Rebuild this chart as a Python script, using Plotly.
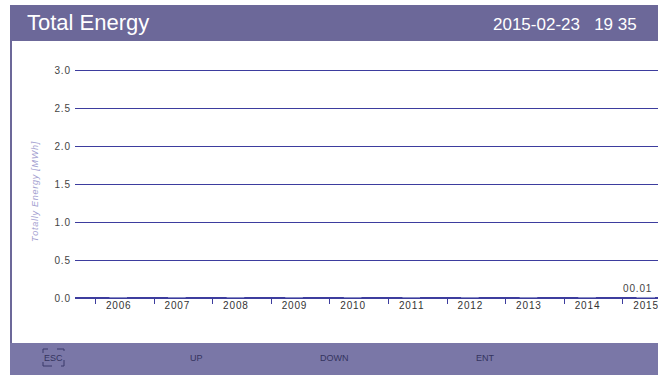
import plotly.graph_objects as go

# Yearly energy totals (MWh)
years = [2006, 2007, 2008, 2009, 2010, 2011, 2012, 2013, 2014, 2015]
energy = [0, 0, 0, 0, 0, 0, 0, 0, 0, 0.01]
y_ticks = [0.0, 0.5, 1.0, 1.5, 2.0, 2.5, 3.0]
y_tick_text = ["0.0", "0.5", "1.0", "1.5", "2.0", "2.5", "3.0"]
boundaries = [y - 0.39 for y in years]

title_text = "Total Energy"
timestamp = "2015-02-23   19 35"
buttons = ["ESC", "UP", "DOWN", "ENT"]
button_x = [53, 196, 334, 485]

W, H = 658, 375
ML, MR, MT, MB = 75, 0, 55, 77
PW, PH = W - ML - MR, H - MT - MB
HEADER = "#6c6899"
FOOTER = "#7a77a7"
GRID = "#3d3d9e"
HS = "\u200a"  # hair space for the wide-tracked LCD lettering


def spaced(s):
    return HS.join(s)


def px(x):
    """Pixel x -> paper x (plot-area relative)."""
    return (x - ML) / PW


def py(y):
    """Pixel y (from top) -> paper y (plot-area relative)."""
    return (H - MB - y) / PH


fig = go.Figure()
fig.add_trace(go.Bar(
    x=years, y=energy, marker_color=GRID, width=0.3, cliponaxis=False,
))

fig.update_layout(
    width=W, height=H,
    margin=dict(l=ML, r=MR, t=MT, b=MB),
    paper_bgcolor="white", plot_bgcolor="white",
    showlegend=False,
    font=dict(family="Liberation Sans, Arial", color="#444444"),
    xaxis=dict(
        range=[2005.262, 2015.21],
        tickvals=years, ticktext=[spaced(str(y)) for y in years],
        ticks="", showgrid=False, zeroline=False,
        showline=False, ticklabeloverflow="allow",
        tickfont=dict(size=10, color="#333333"),
        minor=dict(tickvals=boundaries, ticks="outside", ticklen=5,
                   tickcolor=GRID, tickwidth=1, showgrid=False),
    ),
    yaxis=dict(
        range=[0, 3.2],
        tickvals=y_ticks, ticktext=[spaced(t) for t in y_tick_text],
        showgrid=True, gridcolor=GRID, gridwidth=1,
        zeroline=True, zerolinecolor=GRID, zerolinewidth=2,
        ticks="", ticklabelstandoff=4,
        tickfont=dict(size=10, color="#444444"),
        showline=False,
    ),
)

shapes = [
    # header band
    dict(type="rect", xref="paper", yref="paper", x0=px(10), x1=px(W),
         y0=py(41), y1=py(5), fillcolor=HEADER, line_width=0, layer="above"),
    # footer band
    dict(type="rect", xref="paper", yref="paper", x0=px(10), x1=px(W),
         y0=py(H), y1=py(343), fillcolor=FOOTER, line_width=0, layer="above"),
    # left frame line
    dict(type="line", xref="paper", yref="paper", x0=px(11), x1=px(11),
         y0=py(343), y1=py(41), line=dict(color=HEADER, width=2), layer="above"),
    # dashed box around ESC
    dict(type="rect", xref="paper", yref="paper", x0=px(43), x1=px(64),
         y0=py(366), y1=py(349), line=dict(color="#3a3a6a", width=1, dash="dash"),
         layer="above"),
]

annotations = [
    dict(text=title_text, x=px(25), y=py(23), xref="paper", yref="paper",
         xanchor="left", yanchor="middle", showarrow=False,
         font=dict(size=22, color="white")),
    dict(text=timestamp, x=px(639), y=py(24), xref="paper", yref="paper",
         xanchor="right", yanchor="middle", showarrow=False,
         font=dict(size=17, color="white")),
    dict(text="<i>" + spaced("Totally Energy [MWh]") + "</i>", x=px(35), y=py(192),
         xref="paper", yref="paper", textangle=-90, showarrow=False,
         xanchor="center", yanchor="middle",
         font=dict(size=9, color="#a3a0d0")),
    # value label for the latest year's bar
    dict(text=spaced(f"{energy[-1]:05.2f}"), x=years[-1], y=energy[-1],
         xref="x", yref="y", xanchor="center", yanchor="bottom", xshift=-8,
         yshift=1, showarrow=False, font=dict(size=10, color="#444444")),
]
for label, bx in zip(buttons, button_x):
    annotations.append(dict(text=label, x=px(bx), y=py(358), xref="paper", yref="paper",
                            showarrow=False, xanchor="center", yanchor="middle",
                            font=dict(size=9, color="#34345e")))

fig.update_layout(shapes=shapes, annotations=annotations)
fig.write_html("out.html")
